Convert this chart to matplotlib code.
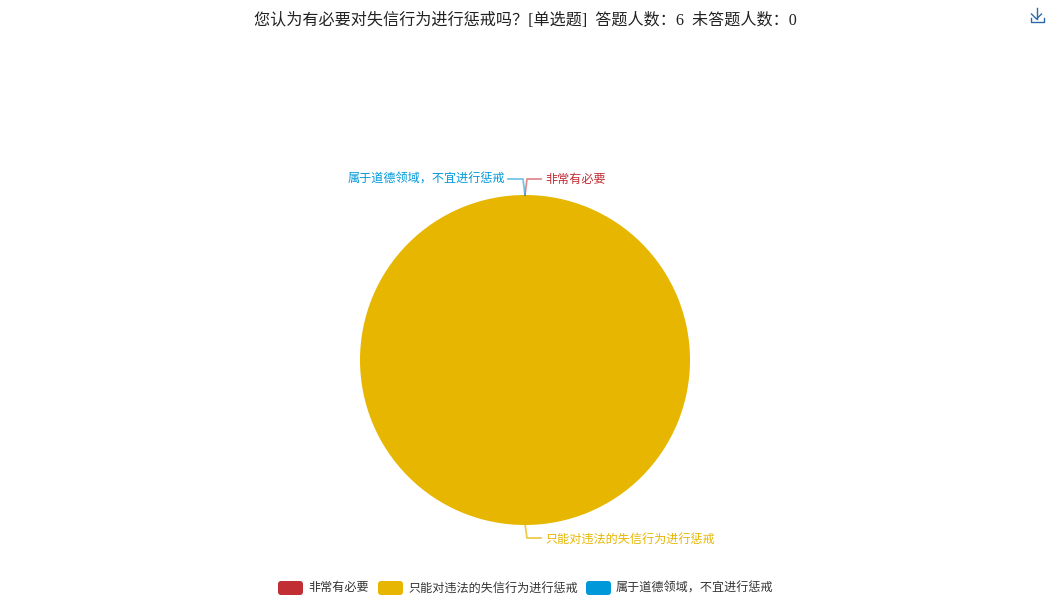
import matplotlib
matplotlib.use('Agg')
import matplotlib.pyplot as plt
from matplotlib.patches import FancyBboxPatch

# 数据
categories = ['非常有必要', '只能对违法的失信行为进行惩戒', '属于道德领域\uff0c不宜进行惩戒']
values = [0, 6, 0]
colors = ['#c12e34', '#e6b600', '#0098d9']
title = '您认为有必要对失信行为进行惩戒吗\uff1f[单选题]  答题人数\uff1a6  未答题人数\uff1a0'

H = 600
plt.rcParams['font.family'] = ['Noto Sans CJK SC', 'DejaVu Sans']


def py(y):
    # 像素坐标 (从上往下) 转成 axes 坐标
    return H - y


fig = plt.figure(figsize=(10.5, 6), dpi=100)
ax = fig.add_axes([0, 0, 1, 1])

# 饼图
ax.pie(values, colors=colors, center=(525, py(360)), radius=165,
       startangle=90, counterclock=False, frame=True,
       wedgeprops={'linewidth': 0})
ax.set_xlim(0, 1050)
ax.set_ylim(0, H)
ax.set_aspect('equal')
ax.axis('off')

# 引导线和标签
ax.plot([525, 527, 541], [py(195), py(179), py(179)], color=colors[0], alpha=0.55, lw=1.3)
ax.plot([525, 523, 508], [py(195), py(179), py(179)], color=colors[2], alpha=0.55, lw=1.3)
ax.plot([525, 527, 541], [py(524), py(538), py(538)], color=colors[1], alpha=0.7, lw=1.3)
ax.text(545, py(179), categories[0], color=colors[0], fontsize=8.7, ha='left', va='center')
ax.text(505.5, py(179), categories[2], color=colors[2], fontsize=8.7, ha='right', va='center')
ax.text(545, py(539), categories[1], color=colors[1], fontsize=8.7, ha='left', va='center')

# 图例
legend_x = [278, 378, 586]
for name, c, x in zip(categories, colors, legend_x):
    ax.add_patch(FancyBboxPatch((x + 3, py(592)), 19, 8, boxstyle='round,pad=3,rounding_size=3',
                                fc=c, ec='none'))
    ax.text(x + 30, py(588), name, color='#333333', fontsize=8.7, ha='left', va='center')

# 标题
ax.text(525, py(21), title, color='#222222', fontsize=11.6, ha='center', va='center',
        family=['Liberation Serif', 'Noto Sans CJK SC'])

# 下载图标
icon = '#2f6aa8'
ax.plot([1036.5, 1036.5], [py(8), py(19)], color=icon, lw=1)
ax.plot([1031.5, 1036.5, 1041.5], [py(14), py(19), py(14)], color=icon, lw=1)
ax.plot([1030.5, 1030.5, 1043.5, 1043.5], [py(18), py(22), py(22), py(18)], color=icon, lw=1)

fig.savefig('out.png', dpi=100)
